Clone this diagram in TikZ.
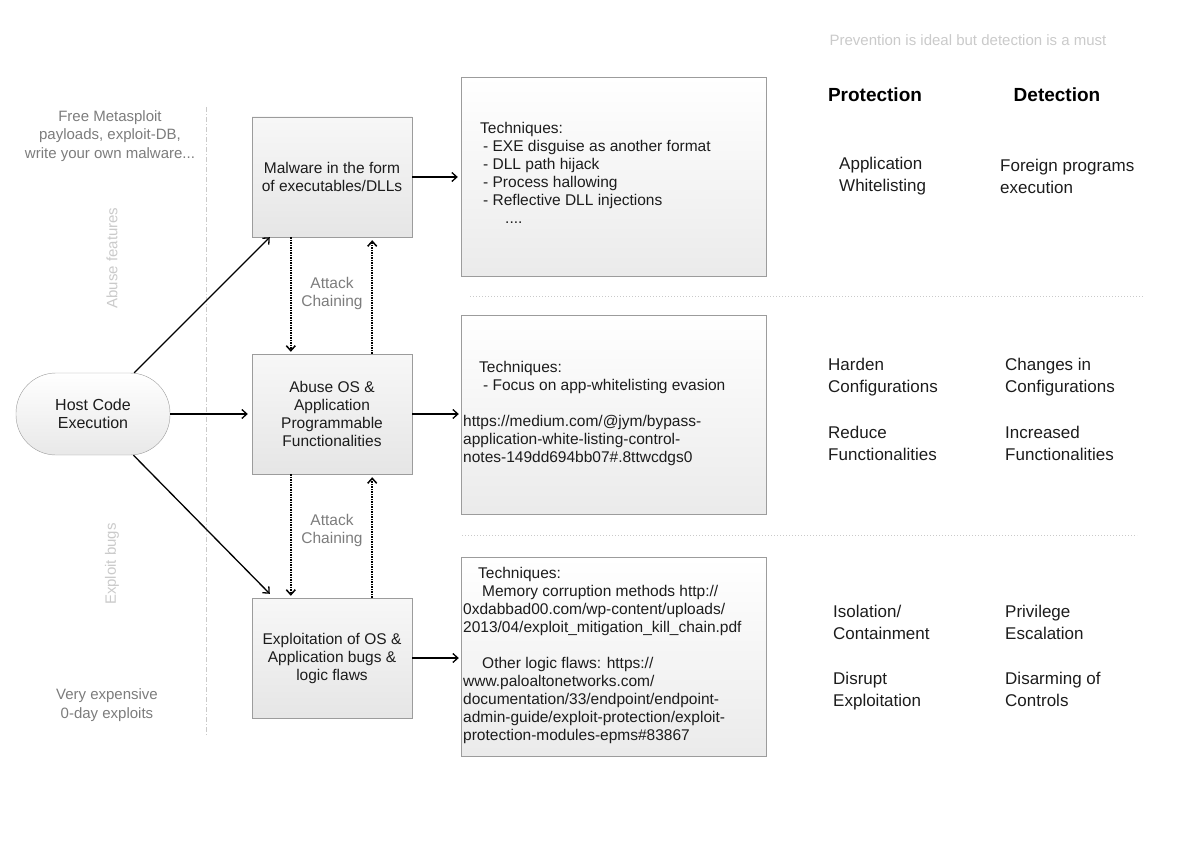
\documentclass[tikz,border=0pt]{standalone}
\usepackage{fontspec}
\setmainfont{Liberation Sans}
\usetikzlibrary{positioning,arrows.meta,calc}
\definecolor{edge}{HTML}{9C9C9C}
\definecolor{ink}{HTML}{1C1C1C}
\definecolor{muted}{HTML}{7C7C7C}
\definecolor{faint}{HTML}{CACACA}

\begin{document}
\begin{tikzpicture}[x=1pt,y=-1pt,>={Straight Barb[length=5pt,width=9pt]},
  host/.style={draw=edge,top color=white,bottom color=black!9,rounded corners=40pt,minimum width=154pt,minimum height=82pt,align=center,font=\fontsize{16}{18.5}\selectfont,text=ink},
  stage/.style={draw=edge,top color=black!3,bottom color=black!10,minimum width=160pt,minimum height=120pt,align=center,font=\fontsize{15.5}{18}\selectfont,text=ink},
  tech/.style={draw=edge,top color=white,bottom color=black!8,minimum width=305pt,minimum height=199pt},
  techtxt/.style={align=left,anchor=west,inner sep=0pt,font=\fontsize{15.5}{18}\selectfont,text=ink},
  col/.style={align=left,anchor=west,inner sep=0pt,font=\fontsize{17}{22}\selectfont,text=ink},
  head/.style={font=\fontsize{19}{22}\selectfont\bfseries,text=black},
  side/.style={align=center,text=muted,font=\fontsize{15}{18.5}\selectfont},
  vlab/.style={rotate=90,text=faint,font=\fontsize{15}{18}\selectfont},
  chainlab/.style={align=center,text=muted,font=\fontsize{15.5}{18}\selectfont},
  arr/.style={->,line width=1.3pt},
  chain/.style={->,densely dotted,line width=1.5pt},
  sep/.style={faint,dotted,line width=1pt}]
  \useasboundingbox (0,0) rectangle (1191,842);

  % ---------------- left: where the code comes from ----------------
  \draw[faint,line width=1pt,dash pattern=on 5pt off 2pt on 1pt off 2pt] (206,107) -- (206,735);
  \node[side] (free) at (110,136) {Free Metasploit\\payloads, exploit-DB,\\write your own malware...};
  \node[side] (zero) at (107,705) {Very expensive\\0-day exploits};
  \node[vlab] (abuse) at (112,258) {Abuse features};
  \node[vlab] (bugs) at (112,564) {Exploit bugs};
  \node[host] (host) at (93,414) {Host Code\\Execution};

  % ---------------- middle: the three stages ----------------
  \node[stage] (mal) at (332,177) {Malware in the form\\of executables/DLLs};
  \node[stage] (abu) at (332,414) {Abuse OS \&\\Application\\Programmable\\Functionalities};
  \node[stage] (exp) at (332,658) {Exploitation of OS \&\\Application bugs \&\\logic flaws};
  \draw[arr] (host) -- ([xshift=18pt]mal.south west);
  \draw[arr] (host) -- ([xshift=-4pt]abu.west);
  \draw[arr] (host) -- ([xshift=18pt,yshift=4pt]exp.north west);

  \draw[chain] ([xshift=39pt]mal.south west) -- ([xshift=39pt,yshift=2pt]abu.north west);
  \draw[chain] ([xshift=-40pt]abu.north east) -- ([xshift=-40pt,yshift=-3pt]mal.south east);
  \node[chainlab] (ch1) at (332,293) {Attack\\Chaining};
  \draw[chain] ([xshift=39pt]abu.south west) -- ([xshift=39pt,yshift=2pt]exp.north west);
  \draw[chain] ([xshift=-40pt]exp.north east) -- ([xshift=-40pt,yshift=-3pt]abu.south east);
  \node[chainlab] (ch2) at (332,530) {Attack\\Chaining};

  % ---------------- techniques ----------------
  \node[tech] (t1) at (613.5,176.5) {};
  \node[tech] (t2) at (613.5,414.5) {};
  \node[tech] (t3) at (613.5,657) {};
  \draw[arr] (mal.east) -- ([xshift=-3pt]t1.west |- mal.east);
  \draw[arr] (abu.east) -- ([xshift=-2pt]t2.west |- abu.east);
  \draw[arr] (exp.east) -- ([xshift=-2pt]t3.west |- exp.east);

  \node[techtxt] (t1txt) at (480,173) {Techniques:\\
    \hspace*{3pt}- EXE disguise as another format\\
    \hspace*{3pt}- DLL path hijack\\
    \hspace*{3pt}- Process hallowing\\
    \hspace*{3pt}- Reflective DLL injections\\
    \hspace*{25pt}....};
  \node[techtxt] (t2txt) at (463,413) {\hspace*{16pt}Techniques:\\
    \hspace*{20pt}- Focus on app-whitelisting evasion\\[18pt]
    https://medium.com/@jym/bypass-\\
    application-white-listing-control-\\
    notes-149dd694bb07\#.8ttwcdgs0};
  \node[techtxt] (t3txt) at (463,655) {\hspace*{15pt}Techniques:\\
    \hspace*{19pt}Memory corruption methods http://\\
    0xdabbad00.com/wp-content/uploads/\\
    2013/04/exploit\_mitigation\_kill\_chain.pdf\\[18pt]
    \hspace*{19pt}Other logic flaws: https://\\
    www.paloaltonetworks.com/\\
    documentation/33/endpoint/endpoint-\\
    admin-guide/exploit-protection/exploit-\\
    protection-modules-epms\#83867};

  % ---------------- right: protection vs detection ----------------
  \node[text=faint,font=\fontsize{15}{18}\selectfont] (motto) at (968,40) {Prevention is ideal but detection is a must};
  \node[head] (prot) at (875,95) {Protection};
  \node[head] (det) at (1057,95) {Detection};
  \draw[sep] (470,297) -- (1143,297);
  \draw[sep] (462,535) -- (1137,535);

  \node[col] (p1) at (839,176) {Application\\Whitelisting};
  \node[col] (d1) at (1000,176) {Foreign programs\\execution};
  \node[col] (p2) at (828,377) {Harden\\Configurations};
  \node[col] (d2) at (1005,377) {Changes in\\Configurations};
  \node[col] (p3) at (828,443) {Reduce\\Functionalities};
  \node[col] (d3) at (1005,443) {Increased\\Functionalities};
  \node[col] (p4) at (833,622) {Isolation/\\Containment};
  \node[col] (d4) at (1005,622) {Privilege\\Escalation};
  \node[col] (p5) at (833,691) {Disrupt\\Exploitation};
  \node[col] (d5) at (1005,689) {Disarming of\\Controls};
\end{tikzpicture}
\end{document}
